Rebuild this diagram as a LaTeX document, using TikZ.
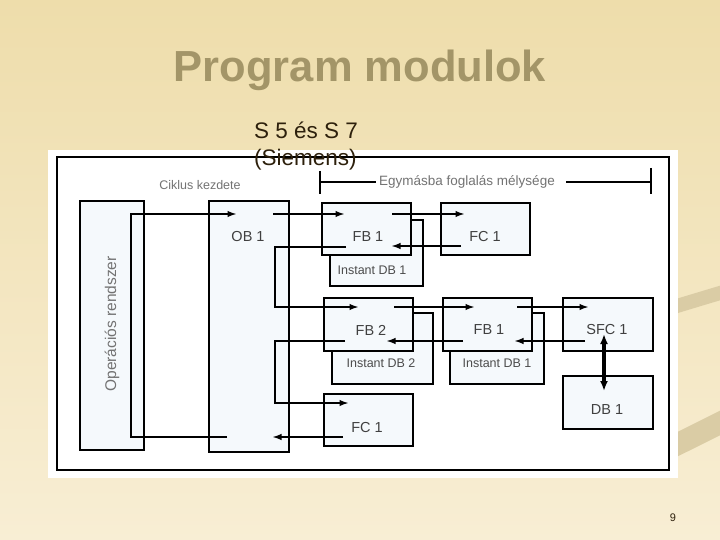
\documentclass[tikz,border=0pt]{standalone}
\usepackage{fontspec}
\setmainfont{Liberation Sans}
\usetikzlibrary{arrows.meta}
\definecolor{titlebrown}{RGB}{163,149,104}
\definecolor{bgtop}{RGB}{238,221,171}
\definecolor{bgbottom}{RGB}{248,238,212}
\definecolor{boxfill}{RGB}{245,249,252}
\definecolor{bandtan}{RGB}{218,204,165}
\definecolor{subtext}{RGB}{45,32,12}
\begin{document}
\begin{tikzpicture}[x=1pt,y=-1pt,
    modbox/.style={draw=black,line width=1.6pt,fill=boxfill,inner sep=0pt,outer sep=0pt},
    modtext/.style={text=black!75,font=\fontsize{14.5}{16}\selectfont,inner sep=0pt},
    dbtext/.style={text=black!70,font=\fontsize{12.5}{14}\selectfont,inner sep=0pt},
    graytext/.style={text=black!55,font=\fontsize{12.5}{14}\selectfont,inner sep=0pt},
    flow/.style={line width=1.9pt,-{Latex[length=9.5pt,width=6.5pt]}},
    bothflow/.style={line width=3.5pt,{Latex[length=10pt,width=8pt]}-{Latex[length=10pt,width=8pt]}}]
\useasboundingbox (0,0) rectangle (720,540);
% slide background
\shade[top color=bgtop,bottom color=bgbottom] (0,0) rectangle (720,540);
\draw[bandtan,line width=14pt] (640,318) .. controls (670,308) .. (730,290);
\draw[bandtan,line width=22pt] (640,462) .. controls (670,448) .. (730,418);
\node[font=\fontsize{43.5}{50}\bfseries\selectfont,text=titlebrown] (title) at (360,70) {Program modulok};
\node[font=\fontsize{11}{12}\selectfont,text=subtext] (pagenr) at (673,518) {9};

% the picture
\fill[white] (48,150) rectangle (678,478);
\draw[line width=1.6pt] (57,157) rectangle (669,470);

\node[modbox,minimum width=64,minimum height=249] (os) at (112,325.5) {};
\node[graytext,rotate=90,font=\fontsize{15.5}{17}\selectfont] (ostext) at (112,324) {Operációs rendszer};
\node[modbox,minimum width=80,minimum height=251] (ob) at (249,326.5) {};
\node[modtext] (obtext) at (248,237) {OB 1};
\node[graytext] (ciklus) at (200,185) {Ciklus kezdete};

% nesting depth bracket
\coordinate (brL) at (320,182);
\coordinate (brR) at (651,182);
\node[graytext,font=\fontsize{13.5}{15}\selectfont,inner sep=3pt] (depth) at (467,182) {Egymásba foglalás mélysége};
\draw[line width=1.4pt] ([yshift=11]brL) -- ([yshift=-12]brL);
\draw[line width=1.4pt] ([yshift=14]brR) -- ([yshift=-12]brR);
\draw[line width=1.4pt] (brL) -- (depth.west);
\draw[line width=1.4pt] ([xshift=8]depth.east) -- (brR);

% first level
\node[modbox,minimum width=93,minimum height=66] (idba) at (376.5,253) {};
\node[dbtext] (idbatext) at (372,270) {Instant DB 1};
\node[modbox,minimum width=89,minimum height=52] (fba) at (366.5,229) {};
\node[modtext] (fbatext) at (368,237) {FB 1};
\node[modbox,minimum width=89,minimum height=52] (fca) at (485.5,229) {};
\node[modtext] (fcatext) at (485,237) {FC 1};

% second level
\node[modbox,minimum width=101,minimum height=71] (idbb) at (382.5,348.5) {};
\node[dbtext] (idbbtext) at (381,363) {Instant DB 2};
\node[modbox,minimum width=89,minimum height=53] (fbb) at (368.5,324.5) {};
\node[modtext] (fbbtext) at (371,330) {FB 2};
\node[modbox,minimum width=94,minimum height=71] (idbc) at (497,348.5) {};
\node[dbtext] (idbctext) at (497,363) {Instant DB 1};
\node[modbox,minimum width=89,minimum height=53] (fbc) at (487.5,324.5) {};
\node[modtext] (fbctext) at (489,330) {FB 1};
\node[modbox,minimum width=90,minimum height=53] (sfc) at (608,324.5) {};
\node[modtext] (sfctext) at (607,330) {SFC 1};
\node[modbox,minimum width=90,minimum height=53] (db) at (608,402.5) {};
\node[modtext] (dbtext) at (607,410) {DB 1};

% third level
\node[modbox,minimum width=89,minimum height=52] (fcb) at (368.5,420) {};
\node[modtext] (fcbtext) at (367,428) {FC 1};

% call and return lines
\coordinate (osret) at (227,437);
\coordinate (obin) at (237,214);
\draw[flow] (osret) -- (131,437) -- (131,214) -- (obin);
\coordinate (obcalla) at (273,214);
\coordinate (fbain) at (345,214);
\draw[flow] (obcalla) -- (fbain);
\coordinate (fbacall) at (392,214);
\coordinate (fcain) at (465,214);
\draw[flow] (fbacall) -- (fcain);
\coordinate (fcaret) at (461,246);
\coordinate (fbaback) at (391,246);
\draw[flow] (fcaret) -- (fbaback);
\coordinate (fbaret) at (346,247);
\coordinate (fbbin) at (359,307);
\draw[flow] (fbaret) -- (275,247) -- (275,307) -- (fbbin);
\coordinate (fbbcall) at (394,307);
\coordinate (fbcin) at (475,307);
\draw[flow] (fbbcall) -- (fbcin);
\coordinate (fbccall) at (517,307);
\coordinate (sfcin) at (589,307);
\draw[flow] (fbccall) -- (sfcin);
\coordinate (sfcret) at (585,341);
\coordinate (fbcback) at (514,341);
\draw[flow] (sfcret) -- (fbcback);
\coordinate (fbcret) at (463,341);
\coordinate (fbbback) at (386,341);
\draw[flow] (fbcret) -- (fbbback);
\coordinate (fbbret) at (345,341);
\coordinate (fcbin) at (349,403);
\draw[flow] (fbbret) -- (275,341) -- (275,403) -- (fcbin);
\coordinate (fcbret) at (343,437);
\coordinate (obback) at (272,437);
\draw[flow] (fcbret) -- (obback);
\coordinate (sfcdb) at (604,334);
\coordinate (dbsfc) at (604,391);
\draw[bothflow] (sfcdb) -- (dbsfc);

\node[anchor=north west,align=left,inner sep=0pt,text=subtext,
  font=\fontsize{22.5}{27}\selectfont] (subtitle) at (254,122) {S 5 és S 7\\(Siemens)};
\end{tikzpicture}
\end{document}
